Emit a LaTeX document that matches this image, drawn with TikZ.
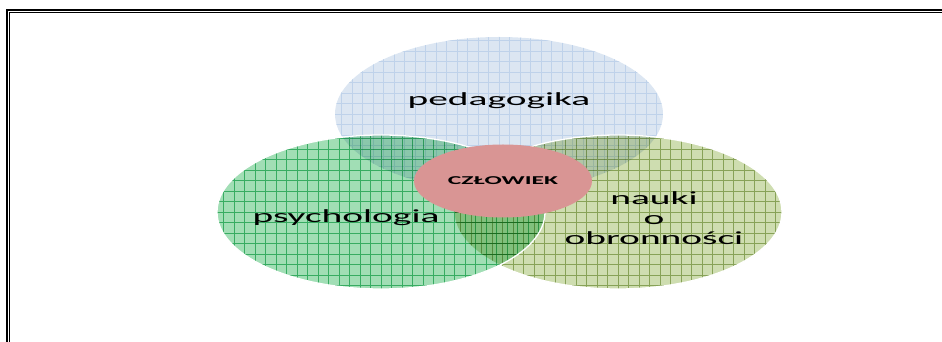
\documentclass[tikz,border=0pt]{standalone}
\usepackage{fontspec}
\setmainfont{Carlito}
\usetikzlibrary{shapes.geometric}
\definecolor{pedblue}{HTML}{DCE6F2}
\definecolor{pedgrid}{HTML}{BFD2EA}
\definecolor{psygreen}{HTML}{90D8A8}
\definecolor{psygrid}{HTML}{3BBD76}
\definecolor{obrolive}{HTML}{C6D7A2}
\definecolor{obrgrid}{HTML}{98B068}
\definecolor{czlpink}{HTML}{D99594}
\newcommand{\wide}[1]{\scalebox{2.13}[1]{#1}}
\tikzset{
  sfera/.style 2 args={ellipse, minimum width=328pt, minimum height=154pt, inner sep=0pt, fill=#1,
    path picture={\draw[#2, line width=0.6pt] (path picture bounding box.south west) grid[step=10.5pt] (path picture bounding box.north east);}},
  brzeg/.style={white, line width=1.3pt},
  napis/.style={font=\fontsize{18.5}{20}\selectfont, align=center, inner sep=0pt}
}
\begin{document}
\begin{tikzpicture}[x=1pt, y=1pt]
  \useasboundingbox (0,0) rectangle (942,342);
  \draw[line width=2.3pt] (7,0) -- (7,332) -- (942,332);
  \draw[line width=1pt] (9.8,0) -- (9.8,329.2) -- (942,329.2);
  \node[sfera={pedblue}{pedgrid}] (ped) at (499,228) {};
  \begin{scope}[blend mode=multiply, fill opacity=0.85, draw opacity=0.85]
    \node[sfera={obrolive}{obrgrid}] (obr) at (618,130) {};
  \end{scope}
  \draw[brzeg] (obr.center) ellipse [x radius=164, y radius=77];
  \begin{scope}[blend mode=multiply, fill opacity=0.85, draw opacity=0.85]
    \node[sfera={psygreen}{psygrid}] (psy) at (381,130) {};
  \end{scope}
  \draw[brzeg] (psy.center) ellipse [x radius=164, y radius=77];
  \node[ellipse, fill=czlpink, minimum width=178pt, minimum height=73pt, inner sep=0pt] (czl) at (503,161)
    {\fontsize{12}{14}\selectfont\bfseries\wide{CZŁOWIEK}};
  \node[napis] (pedtxt) at ([yshift=13]ped.center) {\wide{pedagogika}};
  \node[napis] (psytxt) at ([xshift=-35, yshift=-6]psy.center) {\wide{psychologia}};
  \node[napis] (obrtxt) at ([xshift=36, yshift=-6]obr.center) {\wide{nauki}\\\wide{o}\\\wide{obronności}};
\end{tikzpicture}
\end{document}
